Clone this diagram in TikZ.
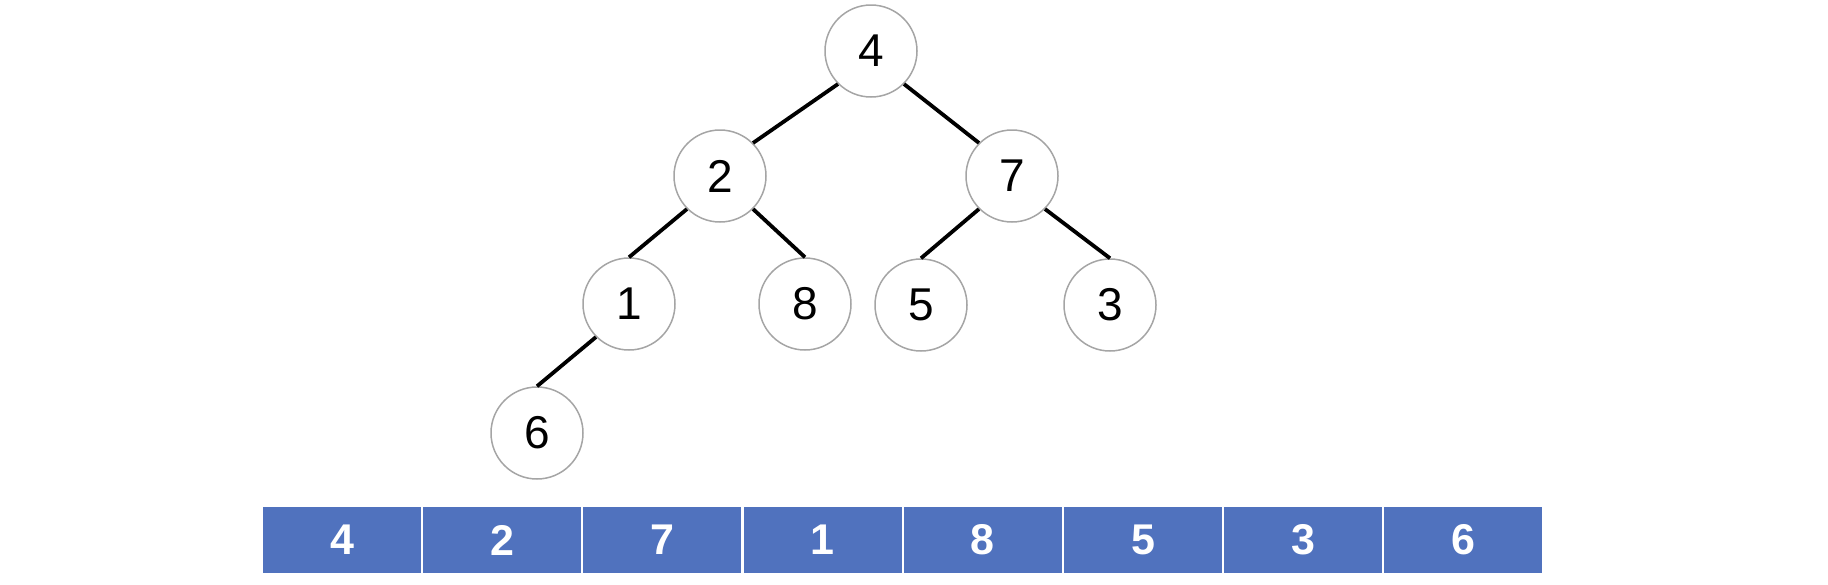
\documentclass[tikz,border=0pt]{standalone}
\usepackage{fontspec}
\setmainfont{Liberation Sans}
\definecolor{cellblue}{RGB}{80,114,190}
\definecolor{ringgray}{RGB}{165,165,165}
\begin{document}
\begin{tikzpicture}[x=1pt,y=-1pt,
  hnode/.style={circle, draw=ringgray, fill=white, line width=1.5pt, minimum size=92pt, inner sep=0pt, font=\fontsize{46}{50}\selectfont},
  edge/.style={line width=3.8pt, black},
  cell/.style={fill=cellblue, minimum width=158pt, minimum height=66pt, inner sep=0pt, text=white, font=\fontsize{43}{46}\selectfont\bfseries}]
\useasboundingbox (0,0) rectangle (1828,584);
\node[hnode] (n4) at (871,51) {4};
\node[hnode] (n2) at (720,176) {2};
\node[hnode] (n7) at (1012,176) {7};
\node[hnode] (n1) at (629,304) {1};
\node[hnode] (n8) at (805,304) {8};
\node[hnode] (n5) at (921,305) {5};
\node[hnode] (n3) at (1110,305) {3};
\node[hnode] (n6) at (537,433) {6};
\draw[edge] (n4.south west) -- (n2.north east);
\draw[edge] (n4.south east) -- (n7.north west);
\draw[edge] (n2.south west) -- (n1.north);
\draw[edge] (n2.south east) -- (n8.north);
\draw[edge] (n7.south west) -- (n5.north);
\draw[edge] (n7.south east) -- (n3.north);
\draw[edge] (n1.south west) -- (n6.north);
\foreach \v [count=\i from 0] in {4,2,7,1,8,5,3,6} {
  \node[cell] (c\i) at (342+160.2*\i,540) {\v};
}
\end{tikzpicture}
\end{document}
